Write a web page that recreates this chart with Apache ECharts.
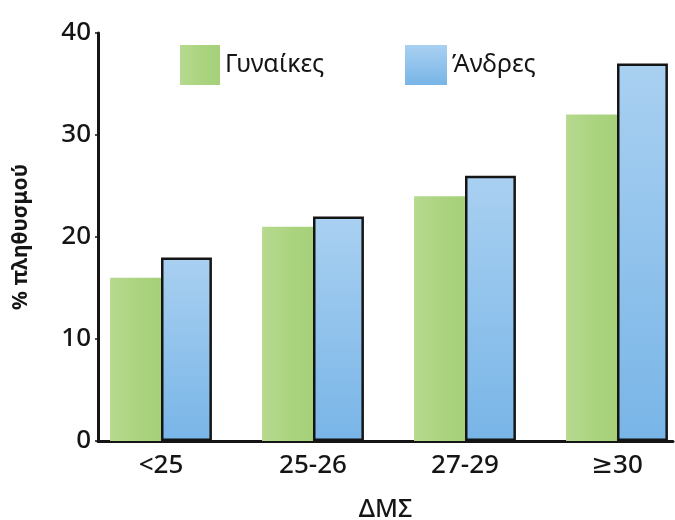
<!DOCTYPE html>
<html>
<head>
<meta charset="utf-8">
<script src="https://cdn.jsdelivr.net/npm/echarts@6/dist/echarts.min.js"></script>
<style>
  html, body { margin: 0; padding: 0; background: #fff; }
  #chart { width: 675px; height: 520px; }
</style>
</head>
<body>
<div id="chart"></div>
<script>
// BMI groups and share of the population (%) by sex
const categories = ['<25', '25-26', '27-29', '≥30'];
const women = [16, 21, 24, 32];
const men = [18, 22, 26, 37];
const yTicks = [0, 10, 20, 30, 40];

const FONT = '"Noto Sans", "DejaVu Sans", sans-serif';
const INK = '#151515';

const greenFill = new echarts.graphic.LinearGradient(0, 0, 1, 0, [
  { offset: 0, color: '#b6d98f' },
  { offset: 0.5, color: '#acd481' },
  { offset: 1, color: '#a5d078' }
]);
const blueFill = new echarts.graphic.LinearGradient(0, 0, 0, 1, [
  { offset: 0, color: '#a9d0f1' },
  { offset: 1, color: '#78b5e7' }
]);

const chart = echarts.init(document.getElementById('chart'), null, { renderer: 'canvas' });

chart.setOption({
  backgroundColor: '#ffffff',
  animation: false,
  textStyle: { fontFamily: FONT },
  legend: [
    {
      left: 175, top: 40, icon: 'rect',
      itemWidth: 40, itemHeight: 40, itemGap: 0,
      data: [{ name: 'Γυναίκες', itemStyle: { borderWidth: 0 } }],
      textStyle: { fontSize: 25, color: INK, fontFamily: FONT }
    },
    {
      left: 400, top: 40, icon: 'rect',
      itemWidth: 42, itemHeight: 40, itemGap: 0,
      data: [{ name: 'Άνδρες', itemStyle: { borderWidth: 0 } }],
      textStyle: { fontSize: 25, color: INK, fontFamily: FONT }
    }
  ],
  grid: [
    // bars
    { left: 85, right: -18, top: 33, bottom: 79, containLabel: false, outerBoundsMode: 'none' },
    // visible axes
    { left: 98, right: 2, top: 33, bottom: 79, containLabel: false, outerBoundsMode: 'none' }
  ],
  xAxis: [
    {
      type: 'category', gridIndex: 0, data: categories,
      axisLine: { show: false }, axisTick: { show: false },
      axisLabel: { fontSize: 26, fontWeight: 500, color: INK, margin: 12, fontFamily: FONT }
    },
    {
      type: 'value', gridIndex: 1, min: 0, max: 1,
      axisLine: { show: true, lineStyle: { color: INK, width: 3 } },
      axisTick: { show: false }, axisLabel: { show: false }, splitLine: { show: false },
      name: 'ΔΜΣ', nameLocation: 'middle', nameGap: 56,
      nameTextStyle: { fontSize: 25, fontWeight: 500, color: INK, fontFamily: FONT }
    }
  ],
  yAxis: [
    {
      type: 'value', gridIndex: 0, min: 0, max: 40, interval: 10,
      show: false
    },
    {
      type: 'value', gridIndex: 1, min: yTicks[0], max: yTicks[yTicks.length - 1], interval: 10,
      axisLine: { show: true, lineStyle: { color: INK, width: 3 } },
      axisTick: { show: true, length: 3, lineStyle: { color: INK, width: 1.5 } },
      splitLine: { show: false },
      axisLabel: { fontSize: 26, fontWeight: 500, color: INK, margin: 7, fontFamily: FONT },
      name: '% πληθυσμού', nameLocation: 'middle', nameGap: 66,
      nameTextStyle: { fontSize: 21, fontWeight: 'bold', color: INK, fontFamily: FONT }
    }
  ],
  series: [
    {
      name: 'Γυναίκες', type: 'bar', xAxisIndex: 0, yAxisIndex: 0,
      data: women, z: 3,
      barGap: '0%', barCategoryGap: '33%',
      itemStyle: { color: greenFill }
    },
    {
      name: 'Άνδρες', type: 'bar', xAxisIndex: 0, yAxisIndex: 0,
      data: men, z: 2,
      itemStyle: { color: blueFill, borderColor: INK, borderWidth: 2.5 }
    }
  ]
});
</script>
</body>
</html>
